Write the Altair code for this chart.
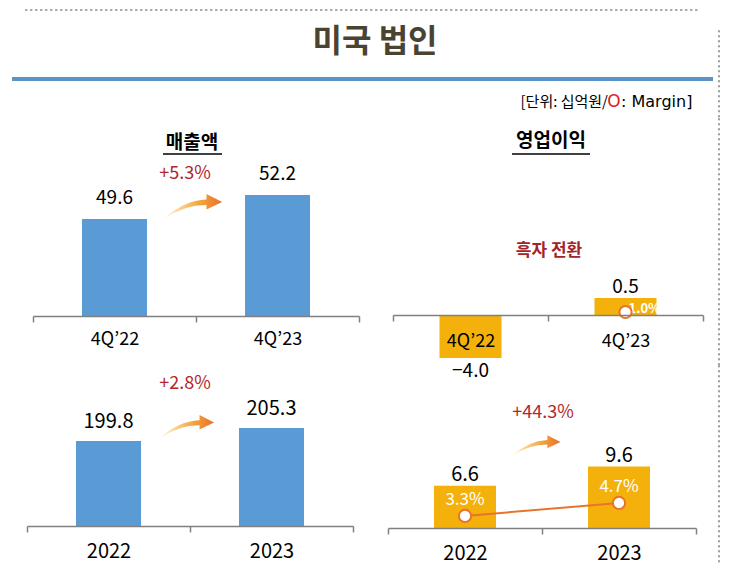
import altair as alt
import pandas as pd

FONT = "Noto Sans CJK KR"
BLUE = "#5b9bd5"
GOLD = "#f4b10b"
RED = "#b3262b"
ORANGE = "#e8742b"
GREY = "#808080"
DOT = "#a0a0a0"

# ---- data ----
TITLE = "미국 법인"
UNIT_TEXT = ["[단위: 십억원/", "O", ": Margin]"]
PANEL_TITLES = ["매출액", "영업이익"]
QUARTERS = ["4Q’22", "4Q’23"]
YEARS = ["2022", "2023"]
Q_SALES = [49.6, 52.2]
Q_OP = [-4.0, 0.5]
Q_MARGIN_CAT = ["4Q’23"]
Q_MARGIN = [1.0]
Y_SALES = [199.8, 205.3]
Y_OP = [6.6, 9.6]
Y_MARGIN = [3.3, 4.7]
GROWTH = ["+5.3%", "흑자 전환", "+2.8%", "+44.3%"]

ARROW = ("M-0.95,0.35 Q-0.3,-0.25 0.45,-0.28 L0.45,-0.47 L0.97,-0.2 "
         "L0.45,0.05 L0.45,-0.1 Q-0.3,-0.1 -0.95,0.35 Z")
GRAD = alt.LinearGradient(
    gradient="linear",
    stops=[alt.GradientStop(color="#fff6d0", offset=0),
           alt.GradientStop(color="#f4a640", offset=0.6),
           alt.GradientStop(color="#e8702a", offset=1)],
    x1=0, x2=1, y1=0, y2=0)


def one(text):
    return alt.Chart(pd.DataFrame({"t": [text]}))


def x_enc(cats, rng, offset, pad, size):
    return alt.X(
        "cat:N",
        scale=alt.Scale(domain=cats, range=rng, paddingInner=0, paddingOuter=0),
        axis=alt.Axis(title=None, tickBand="extent", labelAngle=0, domainColor=GREY,
                      domainWidth=1.5, tickColor=GREY, tickWidth=1.5, tickSize=6,
                      labelFont=FONT, labelFontSize=size, labelColor="black",
                      labelPadding=pad, labelBaseline="middle", offset=offset,
                      zindex=1, grid=False))


def deco_text(text, x, y, size, color="black", weight="normal", font=FONT, align="center"):
    return one(text).mark_text(font=font, fontSize=size, color=color, fontWeight=weight,
                               baseline="middle", align=align).encode(
        x=alt.value(x), y=alt.value(y), text="t:N")


def underline(x1, x2, y):
    return one("").mark_rule(color="black", strokeWidth=1.5).encode(
        x=alt.value(x1), x2=alt.value(x2), y=alt.value(y))


def arrow(x, y, size):
    return one("").mark_point(shape=ARROW, filled=True, fill=GRAD, opacity=1,
                              size=size, strokeWidth=0).encode(
        x=alt.value(x), y=alt.value(y))


def vdots(x, y1, y2):
    return one("").mark_rule(color=DOT, strokeWidth=2.2, strokeDash=[0.5, 4.5],
                             strokeCap="round").encode(
        x=alt.value(x), y=alt.value(y1), y2=alt.value(y2))


# ---- header (left cell holds everything; marks run over into the right cell) ----
header_l = alt.layer(
    one("").mark_rule(color=DOT, strokeWidth=2.2, strokeDash=[0.5, 4.5],
                      strokeCap="round").encode(x=alt.value(18), x2=alt.value(692),
                                                y=alt.value(1)),
    deco_text(TITLE, 367, 33, 32, "#4a4331", "bold"),
    one("").mark_rule(color="#5b93c6", strokeWidth=4).encode(
        x=alt.value(4), x2=alt.value(705), y=alt.value(70)),
    deco_text(UNIT_TEXT[0], 600, 93, 15, align="right"),
    deco_text(UNIT_TEXT[1], 606, 93, 17, "#e02020", font="DejaVu Sans"),
    deco_text(UNIT_TEXT[2], 613, 93, 16, font="DejaVu Sans", align="left"),
).properties(width=380, height=110)

header_r = vdots(331, 22, 110).properties(width=333, height=110)

# ---- top-left: quarterly sales ----
tl_df = pd.DataFrame({"cat": QUARTERS, "v": Q_SALES})
tl_y = alt.Scale(domain=[39.1, 52.2], range=[197, 76])
tl_base = alt.Chart(tl_df).encode(x=x_enc(QUARTERS, [25, 351], -50, 17, 18))
tl = alt.layer(
    tl_base.mark_bar(size=65, color=BLUE).encode(
        y=alt.Y("v:Q", scale=tl_y, axis=None), y2=alt.datum(39.1)),
    tl_base.mark_text(font=FONT, fontSize=19, dy=-21, baseline="middle").encode(
        y=alt.Y("v:Q", scale=tl_y, axis=None), text=alt.Text("v:Q", format=".1f")),
    deco_text(PANEL_TITLES[0], 184, 24, 19, weight="bold"),
    underline(155, 214, 35),
    deco_text(GROWTH[0], 177, 55, 18, RED),
    arrow(185, 89, 3600),
).resolve_scale(y="independent").properties(width=380, height=247)

# ---- top-right: quarterly operating profit ----
tr_df = pd.DataFrame({"cat": QUARTERS, "v": Q_OP})
tr_m = pd.DataFrame({"cat": Q_MARGIN_CAT, "m": Q_MARGIN})
tr_y = alt.Scale(type="symlog", constant=0.23, domain=[-4, 0.5], range=[239, 179])
tr_my = alt.Scale(domain=[0, 2], range=[199, 187])
tr_base = alt.Chart(tr_df).encode(x=x_enc(QUARTERS, [5, 315], -51, 20, 18))
tr_mbase = alt.Chart(tr_m).transform_calculate(
    lbl="format(datum.m, '.1f') + '%'").encode(
    x=alt.X("cat:N", scale=alt.Scale(domain=QUARTERS)),
    y=alt.Y("m:Q", scale=tr_my, axis=None))
tr = alt.layer(
    tr_base.mark_bar(size=62, color=GOLD).encode(
        y=alt.Y("v:Q", scale=tr_y, axis=None), y2=alt.datum(0)),
    tr_base.transform_filter("datum.v >= 0").mark_text(
        font=FONT, fontSize=19, dy=-11, baseline="middle").encode(
        y=alt.Y("v:Q", scale=tr_y, axis=None), text=alt.Text("v:Q", format=".1f")),
    tr_base.transform_filter("datum.v < 0").mark_text(
        font=FONT, fontSize=19, dy=13, baseline="middle").encode(
        y=alt.Y("v:Q", scale=tr_y, axis=None), text=alt.Text("v:Q", format=".1f")),
    tr_mbase.mark_text(font=FONT, fontSize=13, fontWeight="bold", color="white",
                       align="left", dx=3, dy=-3, baseline="middle").encode(text="lbl:N"),
    tr_mbase.mark_point(shape="circle", filled=True, fill="white", stroke=ORANGE,
                        strokeWidth=2, size=150, opacity=1),
    deco_text(PANEL_TITLES[1], 163, 22, 19, weight="bold"),
    underline(124, 202, 35),
    deco_text(GROWTH[1], 161, 132, 17, "#a3232a", "bold"),
    vdots(331, 0, 247),
).resolve_scale(y="independent").properties(width=333, height=247)

# ---- bottom-left: annual sales ----
bl_df = pd.DataFrame({"cat": YEARS, "v": Y_SALES})
bl_y = alt.Scale(domain=[163.8, 205.3], range=[160, 62])
bl_base = alt.Chart(bl_df).encode(x=x_enc(YEARS, [19, 345], -38, 19, 20))
bl = alt.layer(
    bl_base.mark_bar(size=65, color=BLUE).encode(
        y=alt.Y("v:Q", scale=bl_y, axis=None), y2=alt.datum(163.8)),
    bl_base.mark_text(font=FONT, fontSize=20, dy=-19, baseline="middle").encode(
        y=alt.Y("v:Q", scale=bl_y, axis=None), text=alt.Text("v:Q", format=".1f")),
    deco_text(GROWTH[2], 177, 18, 18, RED),
    arrow(179, 62, 3110),
).resolve_scale(y="independent").properties(width=380, height=198)

# ---- bottom-right: annual operating profit ----
br_df = pd.DataFrame({"cat": YEARS, "v": Y_OP, "m": Y_MARGIN})
br_y = alt.Scale(domain=[0, 10], range=[162, 98])
br_my = alt.Scale(domain=[0, 10], range=[180.6, 87.7])
br_base = alt.Chart(br_df).encode(x=x_enc(YEARS, [0, 308], -36, 19, 20))
br = alt.layer(
    br_base.mark_bar(size=62, color=GOLD).encode(
        y=alt.Y("v:Q", scale=br_y, axis=None), y2=alt.datum(0)),
    br_base.mark_text(font=FONT, fontSize=20, dy=-11, baseline="middle").encode(
        y=alt.Y("v:Q", scale=br_y, axis=None), text=alt.Text("v:Q", format=".1f")),
    br_base.mark_line(color=ORANGE, strokeWidth=2).encode(
        y=alt.Y("m:Q", scale=br_my, axis=None)),
    br_base.mark_point(shape="circle", filled=True, fill="white", stroke=ORANGE,
                       strokeWidth=2, size=150, opacity=1).encode(
        y=alt.Y("m:Q", scale=br_my, axis=None)),
    br_base.transform_calculate(lbl="format(datum.m, '.1f') + '%'").mark_text(
        font=FONT, fontSize=17, color="white", dy=-16, baseline="middle").encode(
        y=alt.Y("m:Q", scale=br_my, axis=None), text="lbl:N"),
    deco_text(GROWTH[3], 155, 47, 18, RED),
    arrow(148, 81, 2550),
    vdots(331, 0, 198),
).resolve_scale(y="independent").properties(width=333, height=198)

chart = alt.concat(
    header_l, header_r, tl, tr, bl, br,
    columns=2, spacing=0, bounds="flush", align="each",
).properties(padding=0, background="white").configure_view(strokeWidth=0)

chart.save("out.html", embed_options={"renderer": "svg", "actions": False})
